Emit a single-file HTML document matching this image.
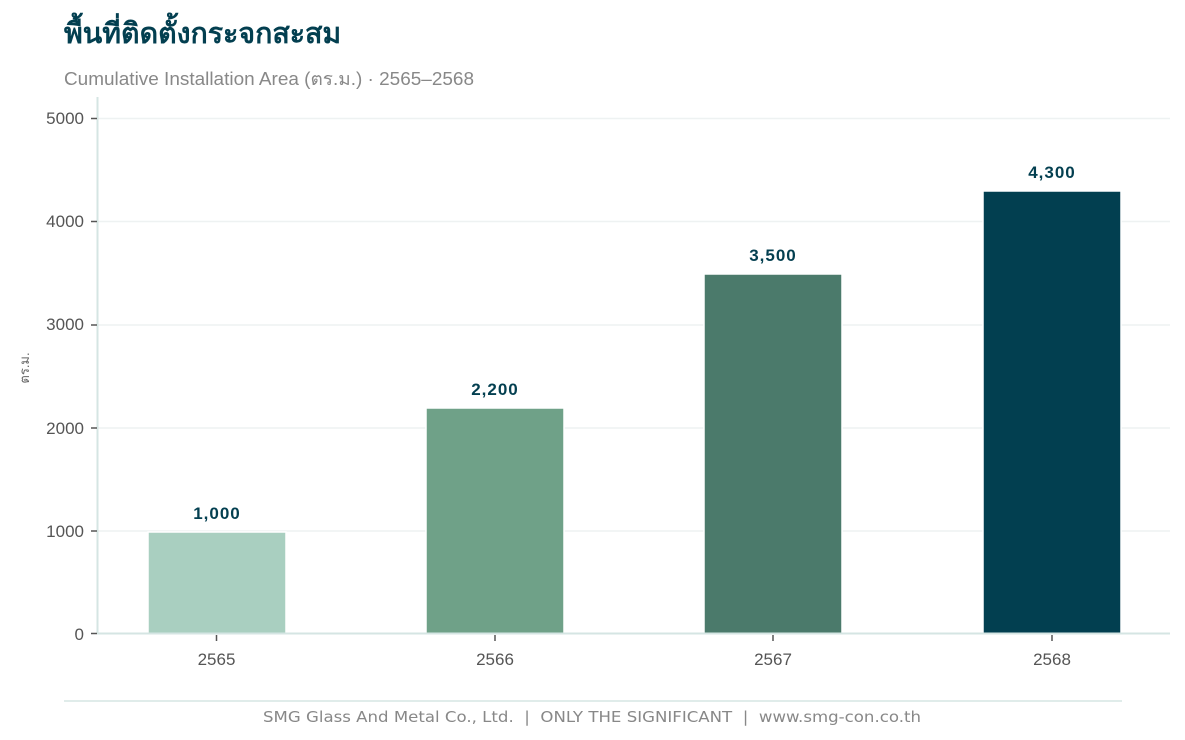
<!DOCTYPE html>
<html><head><meta charset="utf-8"><style>
html,body{margin:0;padding:0;background:#fff;width:1185px;height:740px;overflow:hidden}
text{font-family:"Liberation Sans","Noto Sans CJK SC",sans-serif}
</style></head><body>
<svg width="1185" height="740" viewBox="0 0 1185 740" xmlns="http://www.w3.org/2000/svg">
<text x="64" y="43" font-size="28.5" font-weight="bold" fill="#033f50">พื้นที่ติดตั้งกระจกสะสม</text>
<text x="64" y="85" font-size="18" fill="#888" textLength="410" lengthAdjust="spacingAndGlyphs">Cumulative Installation Area (ตร.ม.) · 2565–2568</text>
<g stroke="#eef2f2" stroke-width="1.5">
<line x1="98" x2="1170" y1="118.5" y2="118.5"/>
<line x1="98" x2="1170" y1="221.5" y2="221.5"/>
<line x1="98" x2="1170" y1="325" y2="325"/>
<line x1="98" x2="1170" y1="428" y2="428"/>
<line x1="98" x2="1170" y1="531" y2="531"/>
</g>
<g stroke="#fff" stroke-width="1.5">
<rect x="148" y="532" width="138" height="102" fill="#a9cfc0"/>
<rect x="426" y="408" width="138" height="226" fill="#6fa188"/>
<rect x="704" y="274" width="138" height="360" fill="#4b7a6b"/>
<rect x="983" y="191" width="138" height="443" fill="#023f50"/>
</g>
<line x1="97.5" y1="97" x2="97.5" y2="634" stroke="#d5e5e3" stroke-width="2"/>
<line x1="97" y1="633.5" x2="1170" y2="633.5" stroke="#d5e5e3" stroke-width="2"/>
<g stroke="#555" stroke-width="1.5">
<line x1="91" x2="97" y1="118.5" y2="118.5"/><line x1="91" x2="97" y1="221.5" y2="221.5"/>
<line x1="91" x2="97" y1="325" y2="325"/><line x1="91" x2="97" y1="428" y2="428"/>
<line x1="91" x2="97" y1="531" y2="531"/><line x1="91" x2="97" y1="633.5" y2="633.5"/>
<line x1="216.5" x2="216.5" y1="635" y2="641"/><line x1="495" x2="495" y1="635" y2="641"/>
<line x1="773" x2="773" y1="635" y2="641"/><line x1="1052" x2="1052" y1="635" y2="641"/>
</g>
<g font-size="17" fill="#555" text-anchor="end">
<text x="84" y="124">5000</text><text x="84" y="227">4000</text><text x="84" y="330">3000</text>
<text x="84" y="434">2000</text><text x="84" y="537">1000</text><text x="84" y="640">0</text>
</g>
<g font-size="17" fill="#555" text-anchor="middle">
<text x="216.5" y="665">2565</text><text x="495" y="665">2566</text>
<text x="773" y="665">2567</text><text x="1052" y="665">2568</text>
</g>
<g font-size="17" font-weight="bold" fill="#033f50" text-anchor="middle" letter-spacing="1">
<text x="217" y="519">1,000</text><text x="495" y="395">2,200</text>
<text x="773" y="261">3,500</text><text x="1052" y="178">4,300</text>
</g>
<text transform="translate(29,368) rotate(-90)" font-size="13" fill="#666" text-anchor="middle">ตร.ม.</text>
<line x1="64" x2="1122" y1="701" y2="701" stroke="#d5e5e3" stroke-width="1.5"/>
<text x="592" y="722" font-size="15" fill="#888" text-anchor="middle" style="white-space:pre;font-family:'DejaVu Sans',sans-serif" textLength="658" lengthAdjust="spacingAndGlyphs">SMG Glass And Metal Co., Ltd.  |  ONLY THE SIGNIFICANT  |  www.smg-con.co.th</text>
</svg>
</body></html>
